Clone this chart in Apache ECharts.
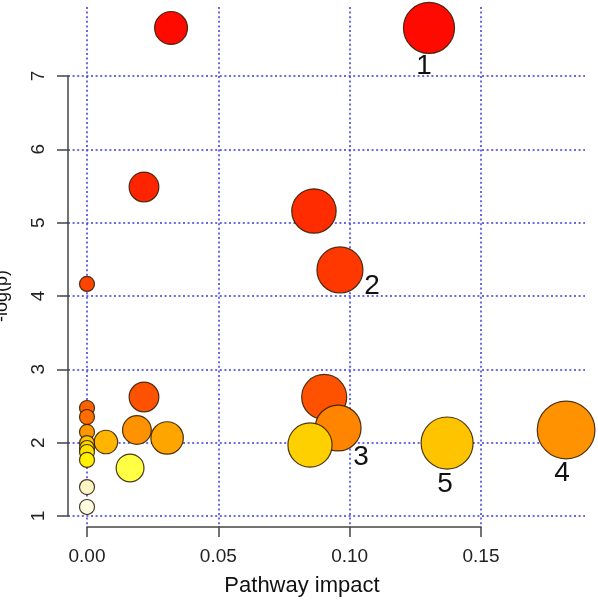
<!DOCTYPE html>
<html><head><meta charset="utf-8">
<script src="https://cdn.jsdelivr.net/npm/echarts@6/dist/echarts.min.js"></script>
<style>html,body{margin:0;padding:0;background:#fff}#c{width:598px;height:601px}</style>
</head><body><div id="c"></div>
<script>
// ---- data ----
const impact  = [0.0320, 0.1302, 0.0217, 0.0864, 0.0963, 0.0000, 0.0217, 0.0903, 0.0956, 0.0849, 0.1371, 0.1824, 0.0305, 0.0190, 0.0072, 0.0164,
                 0, 0, 0, 0, 0, 0, 0, 0, 0];
const negLogP = [7.655, 7.655, 5.487, 5.159, 4.355, 4.164, 2.623, 2.623, 2.200, 1.968, 1.995, 2.173, 2.064, 2.173, 2.009, 1.655,
                 2.473, 2.350, 2.146, 1.995, 1.927, 1.873, 1.764, 1.395, 1.123];
const pathwayLabels = ['', '1', '', '', '2', '', '', '', '3', '', '5', '4', '', '', '', '',
                       '', '', '', '', '', '', '', '', ''];
const xTicks = [0, 0.05, 0.10, 0.15];
const yTicks = [1, 2, 3, 4, 5, 6, 7];
const xTitle = 'Pathway impact';
const yTitle = '-log(p)';

// ---- layout (pixels) ----
const X0PX = 87, XENDPX = 481, YBOTPX = 516, YTOPPX = 76;
const plotL = 68, plotR = 585, plotT = 7, plotB = 527;
const pxPerX = (XENDPX - X0PX) / (xTicks[xTicks.length-1] - xTicks[0]);
const pxPerY = (YBOTPX - YTOPPX) / (yTicks[yTicks.length-1] - yTicks[0]);
const xMin = xTicks[0] - (X0PX - plotL) / pxPerX;
const xMax = xTicks[0] + (plotR - X0PX) / pxPerX;
const yMin = yTicks[0] - (plotB - YBOTPX) / pxPerY;
const yMax = yTicks[yTicks.length-1] + (YTOPPX - plotT) / pxPerY;

// ---- styles ----
const FONT = '"Liberation Sans", Arial, Helvetica, sans-serif';
const colorStops = [[1.10,'#FFFFE6'],[1.40,'#FFF6C4'],[1.66,'#FFFF40'],[1.77,'#FFF000'],[1.87,'#FFE200'],[1.93,'#FFD600'],
  [1.97,'#FFD000'],[2.00,'#FFC200'],[2.01,'#FFB400'],[2.06,'#FFA600'],[2.17,'#FF9400'],[2.20,'#FF8400'],[2.35,'#FF6C00'],
  [2.47,'#FF6200'],[2.62,'#FF5200'],[4.16,'#FF4400'],[4.36,'#FF3800'],[5.16,'#FF2C00'],[5.49,'#FF2400'],[7.66,'#FF0A00']];
function hex2rgb(h){return [parseInt(h.substr(1,2),16),parseInt(h.substr(3,2),16),parseInt(h.substr(5,2),16)];}
function colorFor(v){
  if (v <= colorStops[0][0]) return colorStops[0][1];
  for (let i=1;i<colorStops.length;i++){
    if (v <= colorStops[i][0]){
      const a=colorStops[i-1], b=colorStops[i], t=(v-a[0])/(b[0]-a[0]);
      const ca=hex2rgb(a[1]), cb=hex2rgb(b[1]);
      return 'rgb('+ca.map((c,k)=>Math.round(c+(cb[k]-c)*t)).join(',')+')';
    }
  }
  return colorStops[colorStops.length-1][1];
}
const labelOffsets = {'1':[-5,38],'2':[32,16],'3':[23,29],'4':[-4,43],'5':[-2,41]};

const points = impact.map((x,i)=>({x, y:negLogP[i], lab:pathwayLabels[i]}))
  .sort((a,b)=>b.y-a.y);
const seriesData = points.map(p=>({
  value:[p.x,p.y], name:p.lab,
  label:{show: !!p.lab, offset: labelOffsets[p.lab] || [0,0]}
}));

const gridLine = {show:true, lineStyle:{color:'#3a3ae0', width:1.5, type:[2,2.6]}};
const axisLineStyle = {color:'#444', width:1.5};

const chart = echarts.init(document.getElementById('c'), null, {renderer:'canvas'});
chart.setOption({
  animation:false,
  backgroundColor:'#fff',
  grid:[
    {left:plotL, top:plotT, width:plotR-plotL, height:plotB-plotT, containLabel:false, outerBoundsMode:'none'},
    {left:X0PX, top:plotT, width:XENDPX-X0PX, height:plotB-plotT, containLabel:false, outerBoundsMode:'none'},
    {left:plotL, top:YTOPPX, width:plotR-plotL, height:YBOTPX-YTOPPX, containLabel:false, outerBoundsMode:'none'}
  ],
  xAxis:[
    {gridIndex:0, type:'value', min:xMin, max:xMax, show:false},
    {gridIndex:1, type:'value', min:xTicks[0], max:xTicks[xTicks.length-1], interval:xTicks[1]-xTicks[0],
     position:'bottom',
     axisLine:{show:true, lineStyle:axisLineStyle},
     axisTick:{show:true, length:10, lineStyle:axisLineStyle},
     axisLabel:{show:true, margin:20, fontSize:19, color:'#222', fontFamily:FONT, formatter:v=>v.toFixed(2)},
     splitLine:gridLine,
     name:xTitle, nameLocation:'middle', nameGap:48,
     nameTextStyle:{fontSize:22, color:'#111', fontFamily:FONT, padding:[0,0,0,36]}},
    {gridIndex:2, type:'value', min:0, max:1, show:false}
  ],
  yAxis:[
    {gridIndex:0, type:'value', min:yMin, max:yMax, show:false},
    {gridIndex:1, type:'value', min:0, max:1, show:false},
    {gridIndex:2, type:'value', min:yTicks[0], max:yTicks[yTicks.length-1], interval:1,
     position:'left',
     axisLine:{show:true, lineStyle:axisLineStyle},
     axisTick:{show:true, length:11, lineStyle:axisLineStyle},
     axisLabel:{show:true, rotate:90, margin:20, fontSize:19, color:'#222', fontFamily:FONT},
     splitLine:gridLine,
     name:yTitle, nameLocation:'middle', nameGap:57,
     nameTextStyle:{fontSize:18, color:'#111', fontFamily:FONT}}
  ],
  series:[{
    type:'scatter', xAxisIndex:0, yAxisIndex:0,
    data:seriesData,
    symbol:'circle',
    symbolSize:v=>2*(7.5+50*Math.sqrt(v[0])),
    itemStyle:{color:p=>colorFor(p.value[1]), borderColor:'rgba(45,25,0,0.85)', borderWidth:1.2, opacity:1},
    label:{position:'inside', formatter:p=>p.name, fontSize:28, color:'#111', fontFamily:FONT},
    emphasis:{disabled:true}
  }]
});
</script></body></html>
